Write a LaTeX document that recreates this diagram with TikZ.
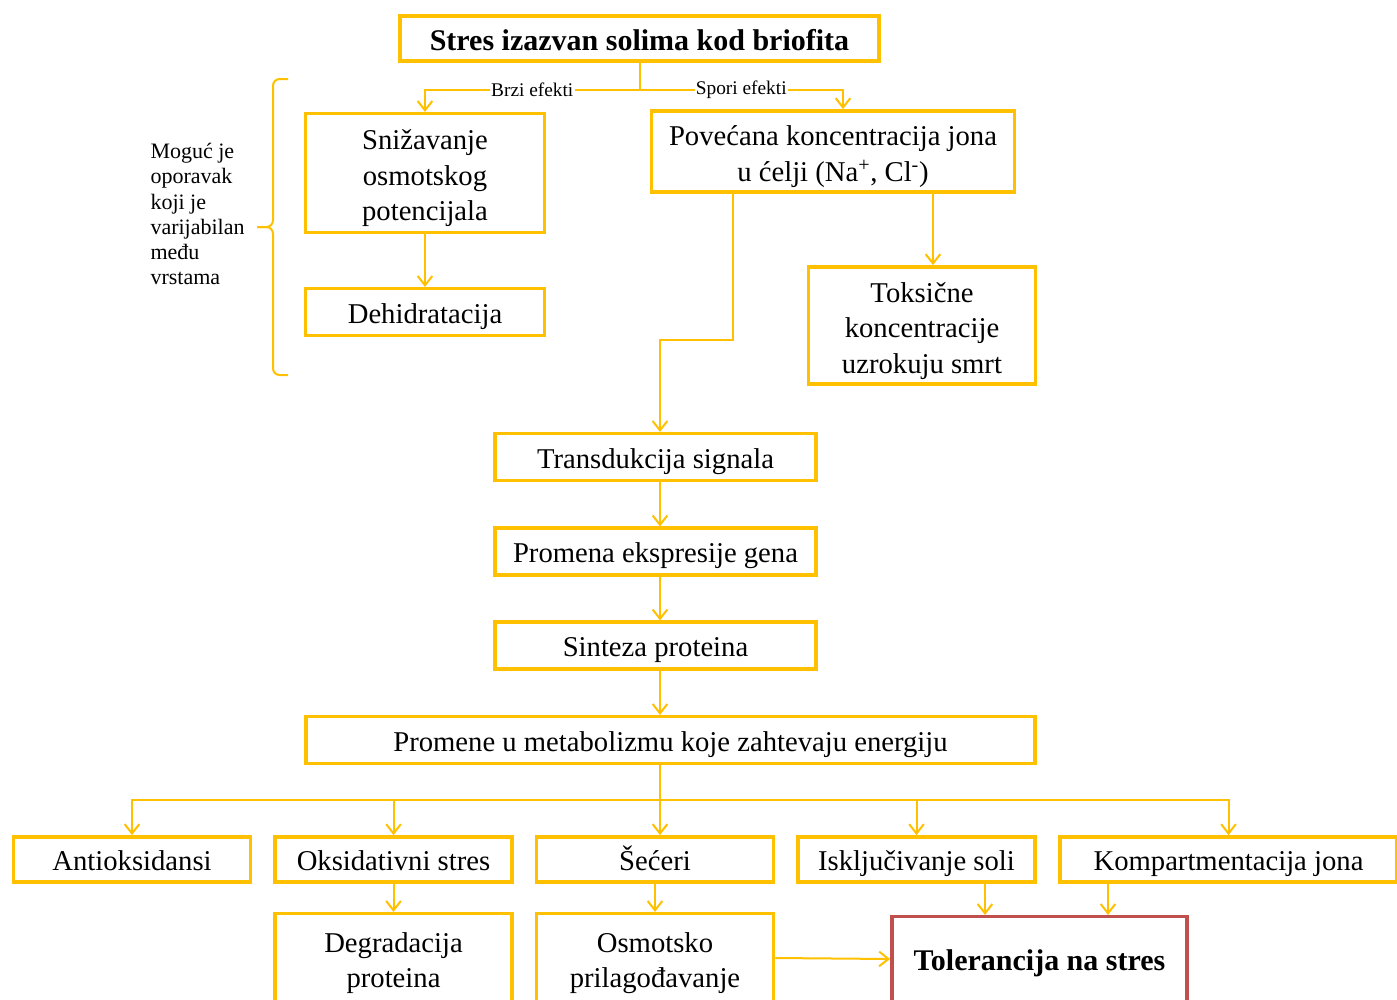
\documentclass[tikz,border=0pt]{standalone}
\usepackage{fontspec}
\setmainfont{Liberation Serif}
\usetikzlibrary{arrows.meta,calc}

\definecolor{zlatna}{RGB}{255,192,0}
\definecolor{crvena}{RGB}{192,80,77}
\newcommand{\tekstfont}{\fontsize{21.5}{26.6}\selectfont}
\newcommand{\naslovfont}{\fontsize{22.5}{26}\selectfont\bfseries}
\newcommand{\sitnifont}{\fontsize{16.5}{18.8}\selectfont}
\newcommand{\oznakafont}{\fontsize{14.5}{16}\selectfont}
\newcommand{\gornja}{\rule{0pt}{1.1em}}

\tikzset{every picture/.style={line width=0.75pt}}
\tikzset{
  kutija/.style={draw=zlatna, line width=2.6pt, fill=white, align=center, inner sep=0pt, font=\tekstfont,
    execute at begin node={\rule{0pt}{1.02em}}, execute at end node={\rule[-0.25em]{0pt}{0.25em}}},
  naslovna/.style={kutija, font=\naslovfont, execute at begin node={\rule{0pt}{0.85em}}},
  veza/.style={draw=zlatna, line width=1.5pt},
  strelica/.style={veza, -{Straight Barb[length=7pt,width=11pt]}},
  oznaka/.style={fill=white, inner sep=1pt, font=\oznakafont},
  zagrada/.style={veza, rounded corners=5pt}
}

\begin{document}
\begin{tikzpicture}[x=0.75pt,y=0.75pt,yscale=-1,xscale=1]
\useasboundingbox (0,0) rectangle (1397,1000);
\clip (0,0) rectangle (1397,1000);

%Naslov
\node[naslovna, minimum width=359.5pt, minimum height=34pt] (naslov) at (639.5,38.5) {Stres izazvan solima kod briofita};

%Brzi efekti
\node[kutija, minimum width=179pt, minimum height=89pt] (snizavanje) at (425,173) {\gornja Snižavanje\\osmotskog\\potencijala};
\node[kutija, minimum width=179pt, minimum height=35pt] (dehidratacija) at (425,312) {Dehidratacija};

%Spori efekti
\node[kutija, minimum width=272pt, minimum height=61pt] (povecana) at (833,151.5) {\gornja Povećana koncentracija jona\\u ćelji (Na\textsuperscript{+}, Cl\textsuperscript{-})};
\node[kutija, minimum width=170pt, minimum height=88pt] (toksicne) at (922,325.5) {\gornja Toksične\\koncentracije\\uzrokuju smrt};

%Zagrada i napomena
\coordinate (zgore) at (288,79);
\coordinate (zdole) at (288,375);
\coordinate (kicma) at (273,227);
\coordinate (vrh) at (257,227);
\draw[zagrada] (zgore) -| (kicma) -- (vrh);
\draw[zagrada] (zdole) -| (kicma) -- (vrh);
\node[font=\sitnifont, align=left, anchor=west, inner sep=0pt] (napomena) at (150,214) {Moguć je\\oporavak\\koji je\\varijabilan\\među\\vrstama};

%Srednji stub
\node[kutija, minimum width=241pt, minimum height=35pt] (transdukcija) at (655.5,457) {Transdukcija signala};
\node[kutija, minimum width=241pt, minimum height=35pt] (promena) at (655.5,551.5) {Promena ekspresije gena};
\node[kutija, minimum width=241pt, minimum height=35pt] (sinteza) at (655.5,645.5) {Sinteza proteina};
\node[kutija, minimum width=547pt, minimum height=35pt] (metabolizam) at (670.5,740) {Promene u metabolizmu koje zahtevaju energiju};

%Donji red
\node[kutija, minimum width=178pt, minimum height=34pt] (antioksidansi) at (132,859.5) {Antioksidansi};
\node[kutija, minimum width=178pt, minimum height=34pt] (oksidativni) at (393.5,859.5) {Oksidativni stres};
\node[kutija, minimum width=178pt, minimum height=34pt] (seceri) at (655,859.5) {Šećeri};
\node[kutija, minimum width=178pt, minimum height=34pt] (iskljucivanje) at (916.5,859.5) {Isključivanje soli};
\node[kutija, minimum width=252.5pt, minimum height=34pt] (kompartmentacija) at (1228.5,859.5) {Kompartmentacija jona};

\node[kutija, minimum width=178pt, minimum height=66.5pt] (degradacija) at (393.5,958) {\gornja Degradacija\\proteina};
\node[kutija, minimum width=178pt, minimum height=66.5pt] (osmotsko) at (655,958) {\gornja Osmotsko\\prilagođavanje};
\node[naslovna, draw=crvena, minimum width=221.5pt, minimum height=63.5pt] (tolerancija) at (1039.5,959) {Tolerancija na stres};

%Pomocne tacke
\coordinate (razdvoj) at ($(naslov.south)+(0,27)$);
\coordinate (p1) at ($(povecana.south)+(100,0)$);
\coordinate (p2) at ($(povecana.south)+(-100,0)$);
\coordinate (os) at (660,0);
\coordinate (lom) at (660,340);
\coordinate (grana) at (0,800);
\coordinate (k1) at (985,0);
\coordinate (k2) at (1108,0);

%Veze
\draw[veza] (naslov.south) -- (razdvoj);
\draw[strelica] (razdvoj) -- node[oznaka]{Brzi efekti} (razdvoj -| snizavanje.north) -- (snizavanje.north);
\draw[strelica] (razdvoj) -- node[oznaka]{Spori efekti} ($(razdvoj -| povecana.north)+(10,0)$) -- ($(povecana.north)+(10,0)$);
\draw[strelica] (snizavanje.south) -- (dehidratacija.north);
\draw[strelica] (p1) -- (p1 |- toksicne.north);
\draw[strelica] (p2) |- (lom) -- (lom |- transdukcija.north);
\draw[strelica] (os |- transdukcija.south) -- (os |- promena.north);
\draw[strelica] (os |- promena.south) -- (os |- sinteza.north);
\draw[strelica] (os |- sinteza.south) -- (os |- metabolizam.north);
\draw[strelica] (os |- metabolizam.south) -- (os |- seceri.north);
\draw[strelica] (os |- grana) -| (antioksidansi.north);
\draw[strelica] (os |- grana) -| (oksidativni.north);
\draw[strelica] (os |- grana) -| (iskljucivanje.north);
\draw[strelica] (os |- grana) -| (kompartmentacija.north);
\draw[strelica] (oksidativni.south) -- (degradacija.north);
\draw[strelica] (seceri.south) -- (osmotsko.north);
\draw[strelica] (k1 |- iskljucivanje.south) -- (k1 |- tolerancija.north);
\draw[strelica] (k2 |- kompartmentacija.south) -- (k2 |- tolerancija.north);
\draw[strelica] (osmotsko.east) -- (tolerancija.west);

\end{tikzpicture}
\end{document}
